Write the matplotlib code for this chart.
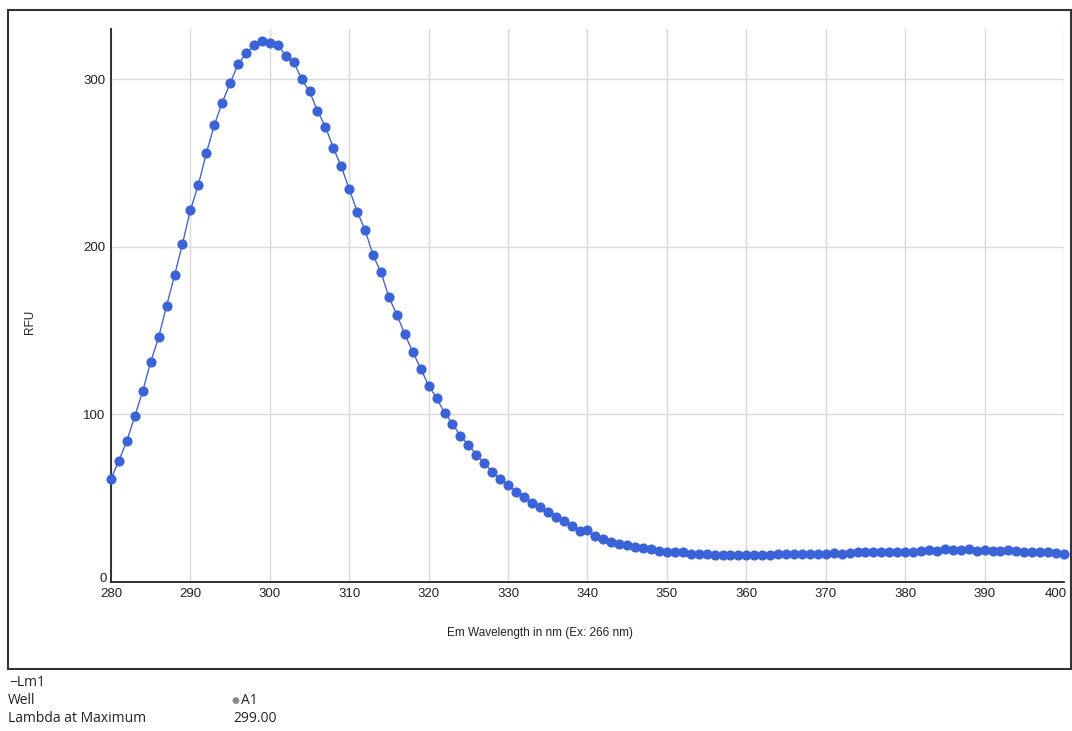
import numpy as np
import matplotlib
matplotlib.use("Agg")
import matplotlib.pyplot as plt
from matplotlib.patches import Rectangle
from matplotlib.transforms import ScaledTranslation

# emission scan, 1 nm steps
wavelength = np.arange(280, 401)
rfu = [
    61.6, 72.4, 84.3, 98.9, 114.0, 131.4, 146.0, 164.8, 183.0, 201.7,   # 280-289
    222.0, 237.0, 255.8, 272.5, 286.0, 297.7, 308.9, 315.4, 320.4, 323.0,  # 290-299
    321.4, 320.7, 314.0, 310.5, 300.0, 292.8, 281.0, 271.7, 259.0, 248.0,  # 300-309
    234.4, 221.0, 210.0, 195.0, 184.8, 169.8, 159.5, 147.8, 137.4, 127.3,  # 310-319
    117.2, 109.7, 101.0, 94.5, 87.0, 82.0, 76.0, 71.0, 65.8, 61.5,       # 320-329
    58.0, 54.0, 50.7, 47.0, 44.7, 42.0, 38.8, 36.6, 33.4, 30.2,          # 330-339
    30.8, 27.6, 25.5, 23.7, 22.9, 22.0, 21.0, 20.3, 19.5, 18.7,          # 340-349
    17.7, 17.9, 17.7, 16.9, 17.0, 16.8, 16.4, 16.0, 16.0, 16.0,          # 350-359
    16.0, 16.0, 16.0, 16.1, 16.5, 17.0, 17.0, 17.0, 17.0, 17.0,          # 360-369
    17.0, 17.5, 17.0, 17.5, 18.0, 18.0, 18.0, 18.0, 18.0, 18.0,          # 370-379
    18.0, 18.0, 18.5, 19.0, 18.5, 19.5, 19.0, 19.0, 19.5, 18.5,          # 380-389
    19.0, 18.5, 18.5, 19.0, 18.5, 18.0, 18.0, 18.0, 18.0, 17.5,          # 390-399
    17.0,                                                               # 400
]
xticks = list(range(280, 401, 10))
yticks = [0, 100, 200, 300]

well = "A1"
lambda_max = "299.00"

plt.rcParams["font.family"] = ["Liberation Sans", "DejaVu Sans"]

fig = plt.figure(figsize=(10.72, 7.31), dpi=100)
ax = fig.add_axes([111 / 1072, 1 - 582 / 731, (1064 - 111) / 1072, (582 - 29) / 731])

ax.plot(wavelength, rfu, color="#4a64c0", lw=1.0, marker="o", ms=6.3,
        mfc="#3b63d8", mec="#3b63d8", clip_on=False, zorder=3)

ax.set_xlim(280, 400)
ax.set_ylim(0, 330)
ax.set_xticks(xticks)
ax.set_yticks(yticks)
ax.grid(True, color="#d9d9d9", lw=1)
ax.set_axisbelow(True)
for s in ("top", "right"):
    ax.spines[s].set_visible(False)
for s in ("left", "bottom"):
    ax.spines[s].set_color("#222222")
    ax.spines[s].set_linewidth(1.3)
ax.tick_params(length=0, labelsize=9.5, colors="#222222", pad=4)

# last x label sits inside the frame, first y label nudged toward the corner
fig.canvas.draw()
ax.get_xticklabels()[-1].set_transform(
    ax.get_xticklabels()[-1].get_transform() + ScaledTranslation(-0.08, 0, fig.dpi_scale_trans))
ax.get_yticklabels()[0].set_transform(
    ax.get_yticklabels()[0].get_transform() + ScaledTranslation(0.01, 0.04, fig.dpi_scale_trans))

fig.text(540 / 1072, 1 - 633 / 731, "Em Wavelength in nm (Ex: 266 nm)",
         ha="center", va="center", fontsize=8.5, color="#222222")
fig.text(30 / 1072, 1 - 322 / 731, "RFU", rotation=90,
         ha="center", va="center", fontsize=8.5, color="#222222")

# outer frame
fig.patches.append(Rectangle((8 / 1072, 1 - 669 / 731), (1071 - 8) / 1072, (669 - 10) / 731,
                             transform=fig.transFigure, fill=False,
                             edgecolor="#333333", lw=1.5))

info = dict(fontsize=10, color="#222222", va="center",
            family=["Open Sans", "DejaVu Sans"])
fig.text(9 / 1072, 1 - 683 / 731, "\u2212Lm1", **info)
fig.text(8 / 1072, 1 - 701 / 731, "Well", **info)
fig.text(8 / 1072, 1 - 719 / 731, "Lambda at Maximum", **info)
fig.text(232 / 1072, 1 - 700 / 731, "\u25cf", fontsize=6.5, color="#8a8a8a",
         va="center", family=["DejaVu Sans"])
fig.text(241 / 1072, 1 - 701 / 731, well, **info)
fig.text(233 / 1072, 1 - 719 / 731, lambda_max, **info)

fig.savefig("out.png", dpi=100)
